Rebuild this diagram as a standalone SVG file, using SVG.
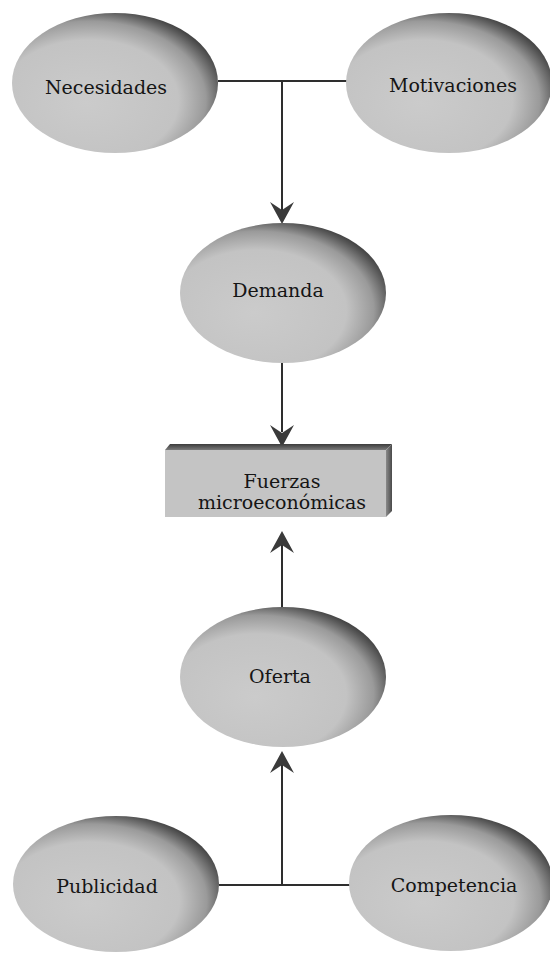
<svg xmlns="http://www.w3.org/2000/svg" width="550" height="953" viewBox="0 0 550 953">
  <style>
    .lbl { font-family: "DejaVu Serif", "Liberation Serif", serif; font-size: 19px; fill: #151515; text-anchor: middle; }
    .wire { fill: none; stroke: #2e2e2e; stroke-width: 2; }
    .oval { fill: url(#shade); }
    .tip { fill: #3a3a3a; }
  </style>
  <defs>
    <!-- light face, darkening toward the upper-right rim -->
    <radialGradient id="shade" cx="0.38" cy="0.62" r="0.68" fx="0.36" fy="0.64">
      <stop offset="0" stop-color="#cbcbcb"/>
      <stop offset="0.64" stop-color="#c3c3c3"/>
      <stop offset="0.83" stop-color="#9a9a9a"/>
      <stop offset="0.94" stop-color="#5a5a5a"/>
      <stop offset="1" stop-color="#3a3a3a"/>
    </radialGradient>
    <linearGradient id="bevelTop" x1="0" y1="0" x2="0" y2="1">
      <stop offset="0" stop-color="#3c3c3c"/>
      <stop offset="1" stop-color="#7a7a7a"/>
    </linearGradient>
    <linearGradient id="bevelSide" x1="0" y1="0" x2="1" y2="0">
      <stop offset="0" stop-color="#8a8a8a"/>
      <stop offset="1" stop-color="#4a4a4a"/>
    </linearGradient>
    <path id="arrowDown" d="M0 0 L-12 -22 L0 -14 L12 -22 Z"/>
    <path id="arrowUp" d="M0 0 L-12 22 L0 14 L12 22 Z"/>
  </defs>

  <rect width="550" height="953" fill="#ffffff"/>

  <g id="connectors">
    <!-- top join: Necesidades / Motivaciones into Demanda -->
    <path class="wire" d="M218 81 H347"/>
    <path class="wire" d="M282 81 V210"/>
    <use href="#arrowDown" class="tip" x="282" y="224"/>
    <!-- Demanda into Fuerzas -->
    <path class="wire" d="M282 363 V432"/>
    <use href="#arrowDown" class="tip" x="282" y="447"/>
    <!-- Oferta into Fuerzas -->
    <path class="wire" d="M282 545 V608"/>
    <use href="#arrowUp" class="tip" x="282" y="531"/>
    <!-- bottom join: Publicidad / Competencia into Oferta -->
    <path class="wire" d="M219 885 H350"/>
    <path class="wire" d="M282 885 V765"/>
    <use href="#arrowUp" class="tip" x="282" y="751"/>
  </g>

  <g id="necesidades">
    <ellipse class="oval" cx="115" cy="83" rx="103" ry="70"/>
    <text class="lbl" x="106" y="94">Necesidades</text>
  </g>

  <g id="motivaciones">
    <ellipse class="oval" cx="449" cy="83" rx="103" ry="70"/>
    <text class="lbl" x="453" y="92">Motivaciones</text>
  </g>

  <g id="demanda">
    <ellipse class="oval" cx="283" cy="293" rx="103" ry="70"/>
    <text class="lbl" x="278" y="297">Demanda</text>
  </g>

  <g id="fuerzas">
    <rect x="165" y="450" width="221" height="67" fill="#c4c4c4"/>
    <polygon points="165,450 170,444 392,444 386,450" fill="url(#bevelTop)"/>
    <polygon points="386,450 392,444 392,511 386,517" fill="url(#bevelSide)"/>
    <text class="lbl" x="282" y="488">Fuerzas</text>
    <text class="lbl" x="282" y="509">microeconómicas</text>
  </g>

  <g id="oferta">
    <ellipse class="oval" cx="283" cy="677" rx="103" ry="70"/>
    <text class="lbl" x="280" y="683">Oferta</text>
  </g>

  <g id="publicidad">
    <ellipse class="oval" cx="116" cy="884" rx="103" ry="68"/>
    <text class="lbl" x="107" y="893">Publicidad</text>
  </g>

  <g id="competencia">
    <ellipse class="oval" cx="451" cy="883" rx="102" ry="68"/>
    <text class="lbl" x="454" y="892">Competencia</text>
  </g>
</svg>
